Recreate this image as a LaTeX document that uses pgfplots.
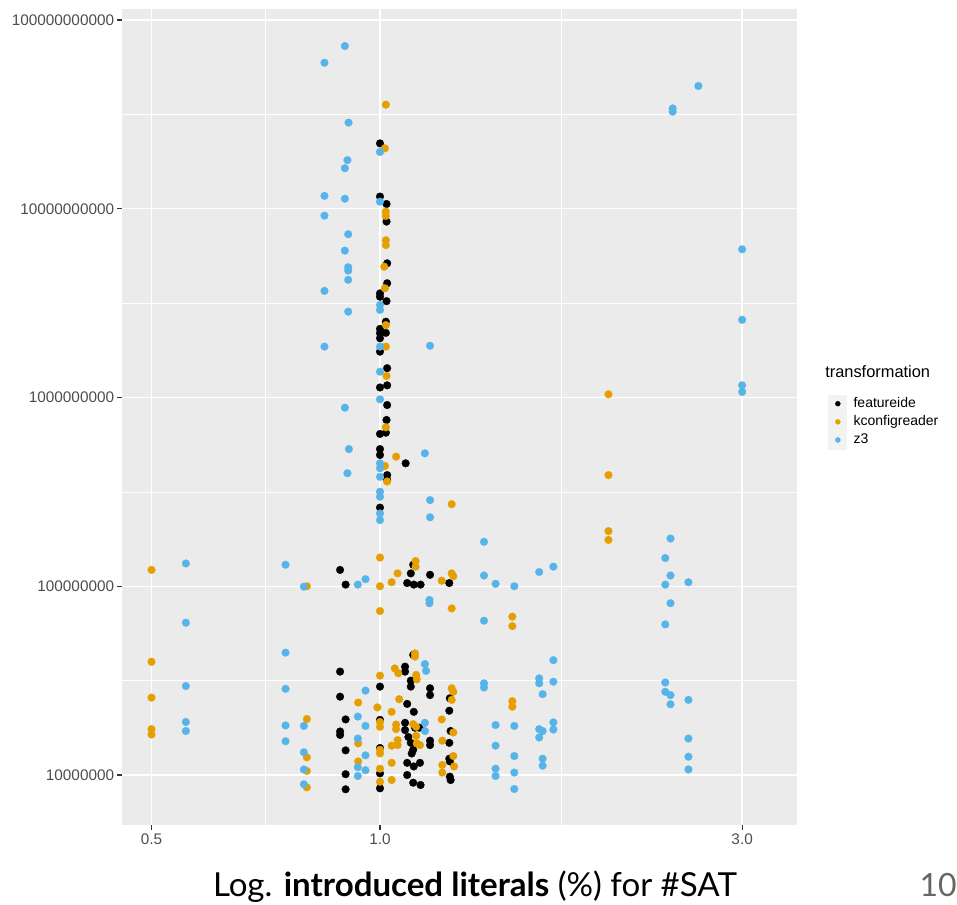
\documentclass[border=0pt]{standalone}
\usepackage{fontspec}
\setmainfont{Liberation Sans}
\newfontfamily\lato{Lato}
\usepackage{pgfplots}
\usepackage{pgfplotstable}
\pgfplotsset{compat=1.18}
\definecolor{kconf}{HTML}{E69F00}
\definecolor{zthree}{HTML}{56B4E9}
\definecolor{panelbg}{HTML}{EBEBEB}
\definecolor{keybg}{HTML}{F2F2F2}
\definecolor{tickgray}{HTML}{333333}
\definecolor{labelgray}{HTML}{4D4D4D}
\definecolor{pagegray}{HTML}{666666}

\pgfplotstableread{
x y
1.0 2.22e10
1.0 1.16e10
1.02 1.06e10
1.02 8.55e9
1.022 5.14e9
1.022 4.03e9
1.0 3.56e9
1.0 3.42e9
1.02 3.24e9
1.018 2.52e9
1.0 2.31e9
1.018 2.2e9
1.0 2.19e9
1.0 2.06e9
1.0 1.75e9
1.022 1.43e9
1.022 1.16e9
1.0 1.13e9
1.022 9.12e8
1.02 7.6e8
1.018 6.51e8
1.0 6.41e8
1.0 5.33e8
1.0 4.96e8
1.081 4.48e8
1.022 3.88e8
1.022 3.66e8
1.0 2.61e8
0.886 1.22e8
0.901 1.02e8
1.106 1.30e8
1.098 1.17e8
1.164 1.15e8
1.234 1.04e8
1.086 1.04e8
1.108 1.02e8
1.131 1.02e8
0.886 3.53e7
1.0 2.94e7
0.886 2.6e7
0.901 1.97e7
1.0 1.96e7
0.886 1.70e7
0.886 1.63e7
0.901 1.35e7
1.0 1.39e7
1.0 1.02e7
0.901 1.01e7
1.0 8.5e6
0.901 8.4e6
1.106 4.33e7
1.079 3.75e7
1.079 3.53e7
1.098 3.16e7
1.098 2.94e7
1.164 2.88e7
1.164 2.65e7
1.236 2.55e7
1.086 2.38e7
1.108 2.16e7
1.234 2.19e7
1.079 1.89e7
1.079 1.73e7
1.112 1.78e7
1.127 1.78e7
1.239 1.71e7
1.164 1.52e7
1.164 1.44e7
1.090 1.59e7
1.098 1.48e7
1.234 1.48e7
1.106 1.36e7
1.101 1.30e7
1.234 1.22e7
1.236 1.18e7
1.086 1.16e7
1.108 1.11e7
1.129 1.16e7
1.086 1.0e7
1.236 9.8e6
1.239 9.4e6
1.106 9.1e6
1.131 8.85e6
}\featureide

\pgfplotstableread{
x y
1.018 3.56e10
1.015 2.09e10
1.018 9.65e9
1.018 9.16e9
1.018 6.81e9
1.018 6.42e9
1.013 4.93e9
1.015 3.79e9
1.018 2.42e9
1.018 1.86e9
1.020 1.30e9
1.018 6.95e8
1.05 4.86e8
1.015 4.34e8
1.022 3.59e8
1.243 2.72e8
0.5 1.22e8
0.801 1.0e8
1.0 1.42e8
1.055 1.17e8
1.0 1.0e8
1.036 1.05e8
1.0 7.39e7
1.114 1.36e8
1.114 1.27e8
1.243 1.17e8
1.249 1.13e8
1.206 1.07e8
1.243 7.63e7
2.0 1.96e8
2.0 1.76e8
1.494 6.9e7
1.494 6.15e7
2.0 1.04e9
2.0 3.88e8
0.5 3.98e7
0.5 2.57e7
0.5 1.75e7
0.5 1.64e7
0.801 1.98e7
0.801 1.24e7
0.801 1.05e7
0.801 8.6e6
1.0 3.36e7
1.046 3.67e7
1.057 3.46e7
0.936 2.42e7
0.992 2.28e7
1.036 2.16e7
1.0 1.91e7
1.0 1.80e7
1.050 1.85e7
1.050 1.75e7
0.936 1.47e7
1.055 1.53e7
1.055 1.44e7
1.0 1.36e7
1.0 1.30e7
1.036 1.43e7
0.936 1.18e7
1.036 1.16e7
1.0 1.08e7
1.036 9.41e6
1.0 9.2e6
1.112 4.41e7
1.112 4.24e7
1.116 3.39e7
1.118 3.21e7
1.243 2.88e7
1.249 2.76e7
1.243 2.5e7
1.060 2.52e7
1.206 1.97e7
1.106 1.86e7
1.116 1.80e7
1.249 1.68e7
1.116 1.61e7
1.118 1.47e7
1.129 1.44e7
1.208 1.52e7
1.249 1.26e7
1.252 1.11e7
1.208 1.13e7
1.208 1.03e7
1.494 2.46e7
1.494 2.3e7
}\kconfigreader

\pgfplotstableread{
x y
0.899 7.28e10
0.845 5.94e10
0.909 2.86e10
1.0 2.0e10
0.906 1.81e10
0.899 1.64e10
0.845 1.17e10
0.899 1.13e10
1.0 1.09e10
0.845 9.19e9
0.908 7.33e9
0.899 6.0e9
0.908 4.9e9
0.908 4.7e9
0.908 4.2e9
0.845 3.67e9
1.0 3.09e9
1.0 2.91e9
0.908 2.85e9
0.845 1.86e9
1.0 1.86e9
1.164 1.88e9
1.0 1.37e9
1.0 9.78e8
0.899 8.83e8
0.910 5.33e8
1.146 5.06e8
1.0 4.48e8
1.0 4.22e8
0.906 3.97e8
1.0 3.80e8
1.0 3.17e8
1.0 2.98e8
1.164 2.86e8
1.0 2.43e8
1.164 2.32e8
1.0 2.24e8
0.555 1.32e8
0.751 1.30e8
0.794 9.95e7
0.555 6.41e7
0.751 4.45e7
0.555 2.96e7
0.751 2.86e7
0.555 1.91e7
0.751 1.83e7
0.794 1.82e7
0.555 1.71e7
0.751 1.51e7
0.794 1.32e7
0.794 1.07e7
0.794 8.93e6
0.957 1.09e8
0.935 1.02e8
0.957 2.8e7
0.935 2.04e7
0.957 1.82e7
0.935 1.56e7
0.957 1.27e7
0.935 1.10e7
0.957 1.06e7
0.935 9.88e6
1.162 8.46e7
1.162 8.13e7
1.146 3.87e7
1.150 3.56e7
1.146 1.89e7
1.146 1.71e7
3.0 6.1e9
3.0 2.58e9
3.0 1.16e9
3.0 1.07e9
2.627 4.47e10
2.43 3.4e10
2.43 3.27e10
2.414 1.79e8
1.371 1.72e8
2.376 1.41e8
1.692 1.27e8
1.621 1.19e8
1.371 1.14e8
2.414 1.14e8
1.42 1.03e8
1.503 1.0e8
2.376 1.02e8
2.549 1.05e8
2.414 8.13e7
1.371 6.57e7
2.376 6.28e7
1.692 4.06e7
1.621 3.25e7
1.621 3.06e7
1.692 3.12e7
1.371 3.06e7
1.371 2.91e7
2.376 3.09e7
1.638 2.68e7
2.376 2.76e7
2.414 2.65e7
2.549 2.5e7
2.414 2.37e7
1.42 1.84e7
1.503 1.82e7
1.692 1.9e7
1.692 1.74e7
1.621 1.75e7
1.638 1.71e7
1.621 1.58e7
2.549 1.56e7
1.42 1.43e7
1.503 1.26e7
1.638 1.22e7
1.638 1.12e7
2.549 1.25e7
1.42 1.08e7
1.42 9.88e6
1.503 1.03e7
2.549 1.07e7
1.503 8.43e6
}\zthree

\begin{document}
\begin{tikzpicture}
\begin{axis}[
  xmode=log, ymode=log,
  scale only axis, width=506.25pt, height=612pt,
  xmin=0.4572, xmax=3.5436, ymin=5.434e6, ymax=1.1438e11,
  clip=false,
  axis background/.style={fill=panelbg},
  axis line style={draw=none},
  xtick={0.5,1,3}, xticklabels={0.5,1.0,3.0},
  ytick={1e7,1e8,1e9,1e10,1e11},
  yticklabels={10000000,100000000,1000000000,10000000000,100000000000},
  minor xtick={0.70711,1.73205},
  minor ytick={3.1623e7,3.1623e8,3.1623e9,3.1623e10},
  grid=both,
  major grid style={white, line width=1.1pt},
  minor grid style={white, line width=0.55pt},
  tick align=outside, tick pos=left,
  major tick length=3.5pt, minor tick length=0pt,
  major tick style={tickgray, line width=0.8pt},
  ticklabel style={text=labelgray, font=\fontsize{11.5}{13}\selectfont},
  xticklabel style={inner sep=0pt, yshift=-3pt},
  yticklabel style={inner sep=0pt, xshift=-2.2pt},
  legend cell align=left,
  legend style={at={(rel axis cs:1.0459,0.5277)}, anchor=north west,
    draw=none, fill=none, inner sep=0pt, row sep=0pt,
    font=\fontsize{10.5}{12}\selectfont,
    nodes={inner sep=0.6pt},
    /tikz/every odd column/.append style={column sep=5pt}},
  legend image code/.code={
    \fill[keybg] (0pt,-6.6pt) rectangle (13pt,6.6pt);
    \draw[mark size=1.9pt] plot coordinates {(7pt,0pt)};
  },
]
\addplot[only marks, mark=*, mark size=2.9pt, color=black, mark options={line width=0.2pt}] table {\featureide};
\addlegendentry{featureide}
\addplot[only marks, mark=*, mark size=2.9pt, color=kconf, mark options={line width=0.2pt}] table {\kconfigreader};
\addlegendentry{kconfigreader}
\addplot[only marks, mark=*, mark size=2.9pt, color=zthree, mark options={line width=0.2pt}] table {\zthree};
\addlegendentry{z3}
\coordinate (P) at (rel axis cs:0,0);
\node[anchor=base west, inner sep=0pt, font=\fontsize{12.3}{14}\selectfont, text=black] at (rel axis cs:1.0415,0.548) {transformation};
\node[anchor=base, inner sep=0pt, font=\lato\fontsize{24.8}{28}\selectfont, text=black] at (rel axis cs:0.523,-0.088) {Log. \textbf{introduced literals} (\%) for \#SAT};
\node[anchor=base east, inner sep=0pt, text=pagegray, font=\lato\fontsize{24}{28}\selectfont] at (rel axis cs:1.2370,-0.088) {10};
\end{axis}
\pgfresetboundingbox
\path[use as bounding box] (P) ++(-91.5pt,-59.25pt) rectangle ++(717.75pt,678pt);
\end{tikzpicture}
\end{document}
